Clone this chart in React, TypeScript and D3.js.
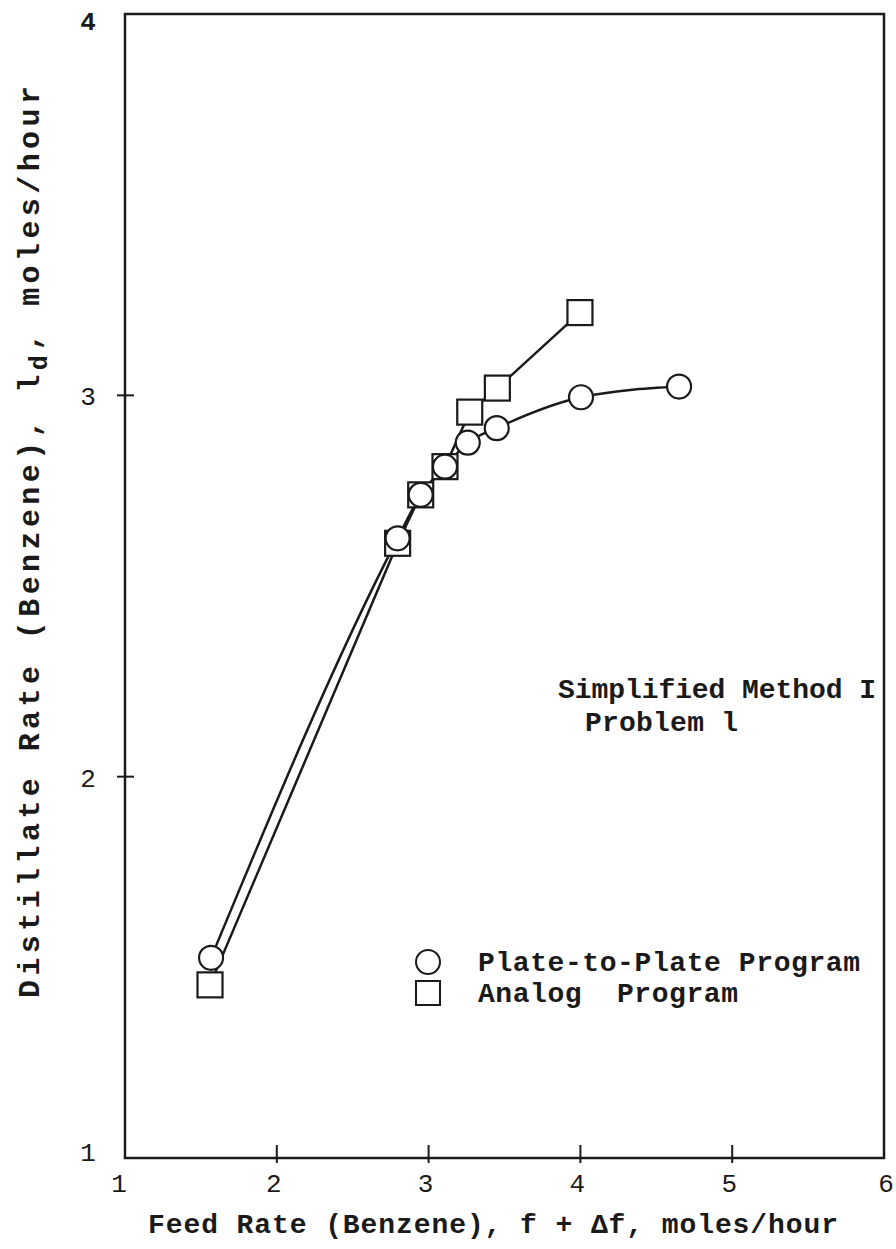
import React from "react";
import * as d3 from "d3";

const xTicks = [1, 2, 3, 4, 5, 6];
const yTicks = [1, 2, 3, 4];
const xInnerTicks = [2, 3, 4, 5];
const yInnerTicks = [2, 3];

const plateX = [1.567, 2.796, 2.948, 3.108, 3.258, 3.449, 4.004, 4.65];
const plateY = [1.525, 2.625, 2.739, 2.813, 2.876, 2.914, 2.995, 3.023];

const analogX = [1.56, 2.796, 2.948, 3.108, 3.271, 3.453, 3.997];
const analogY = [1.454, 2.612, 2.739, 2.813, 2.956, 3.019, 3.217];

const W = 896;
const H = 1249;
const FONT = "'Liberation Mono', 'Courier New', monospace";

export default function App() {
  const x = d3.scaleLinear().domain([1, 6]).range([125, 884]);
  const y = d3.scaleLinear().domain([1, 4]).range([1158, 14]);

  const plate = plateX.map((v, i) => [v, plateY[i]] as [number, number]);
  const analog = analogX.map((v, i) => [v, analogY[i]] as [number, number]);

  const curveLine = d3
    .line<[number, number]>()
    .x((d) => x(d[0]))
    .y((d) => y(d[1]))
    .curve(d3.curveMonotoneX);
  const straightLine = d3
    .line<[number, number]>()
    .x((d) => x(d[0]))
    .y((d) => y(d[1]));

  const r = 12;
  const s = 25;
  const ink = "#1a1a1a";

  return (
    <svg
      width={W}
      height={H}
      style={{ position: "absolute", left: 0, top: 0, background: "#fff" }}
      fontFamily={FONT}
    >
      <rect x={0} y={0} width={W} height={H} fill="#fff" />
      {/* frame */}
      <rect
        x={x(1)}
        y={y(4)}
        width={x(6) - x(1)}
        height={y(1) - y(4)}
        fill="none"
        stroke={ink}
        strokeWidth={2.5}
      />
      {xInnerTicks.map((t) => (
        <line key={"xt" + t} x1={x(t)} x2={x(t)} y1={y(1) - 13} y2={y(1) + 5} stroke={ink} strokeWidth={2} />
      ))}
      {yInnerTicks.map((t) => (
        <line key={"yt" + t} x1={x(1) - 8} x2={x(1) + 9} y1={y(t)} y2={y(t)} stroke={ink} strokeWidth={2} />
      ))}
      {xTicks.map((t) => (
        <text key={"xl" + t} x={x(t) - (t === 1 ? 6 : t === 6 ? -2 : 3)} y={1192} fontSize={26} textAnchor="middle" fill={ink}>
          {t}
        </text>
      ))}
      {yTicks.map((t) => (
        <text
          key={"yl" + t}
          x={88}
          y={y(t) + (t === 4 ? 16 : t === 1 ? 3 : 10)}
          fontSize={26}
          textAnchor="middle"
          fontWeight={t === 4 ? "bold" : "normal"}
          fill={ink}
        >
          {t}
        </text>
      ))}
      {/* axis titles */}
      <text x={148} y={1233} fontSize={28} fontWeight="bold" fill={ink} textLength={690} lengthAdjust="spacing">
        Feed Rate (Benzene), f + Δf, moles/hour
      </text>
      <text
        transform="translate(39,998) rotate(-90)"
        fontSize={30}
        fontWeight="bold"
        fill={ink}
        textLength={912}
        lengthAdjust="spacing"
      >
        <tspan>Distillate Rate (Benzene), l</tspan>
        <tspan dy={8} fontSize={25}>d</tspan>
        <tspan dy={-8}>, moles/hour</tspan>
      </text>
      {/* series lines */}
      <path d={straightLine(analog) || ""} fill="none" stroke={ink} strokeWidth={2.5} />
      <path d={curveLine(plate) || ""} fill="none" stroke={ink} strokeWidth={2.5} />
      {/* markers */}
      {analog.map((d, i) => (
        <rect key={"sq" + i} x={x(d[0]) - s / 2} y={y(d[1]) - s / 2} width={s} height={s} fill="#fff" stroke={ink} strokeWidth={2.2} />
      ))}
      {plate.map((d, i) => (
        <circle key={"ci" + i} cx={x(d[0])} cy={y(d[1])} r={r} fill="#fff" stroke={ink} strokeWidth={2.2} />
      ))}
      {/* annotation */}
      <text x={558} y={698} fontSize={28} fontWeight="bold" fill={ink} textLength={318} lengthAdjust="spacing">
        Simplified Method I
      </text>
      <text x={585} y={731} fontSize={28} fontWeight="bold" fill={ink} textLength={153} lengthAdjust="spacing">
        Problem l
      </text>
      {/* legend */}
      <circle cx={428} cy={962} r={12} fill="#fff" stroke={ink} strokeWidth={2} />
      <rect x={416} y={981} width={24} height={24} fill="#fff" stroke={ink} strokeWidth={2} />
      <text x={478} y={971} fontSize={28} fontWeight="bold" fill={ink} textLength={382} lengthAdjust="spacing">
        Plate-to-Plate Program
      </text>
      <text
        x={478}
        y={1002}
        fontSize={28}
        fontWeight="bold"
        fill={ink}
        textLength={260}
        lengthAdjust="spacing"
        style={{ whiteSpace: "pre" }}
      >
        {"Analog  Program"}
      </text>
    </svg>
  );
}
